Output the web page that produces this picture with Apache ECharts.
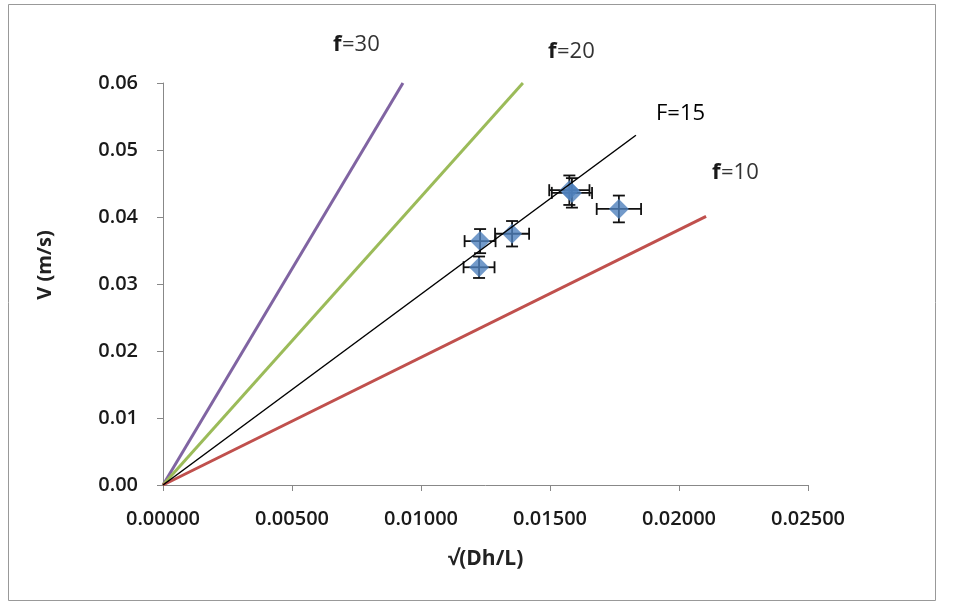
<!DOCTYPE html>
<html><head><meta charset="utf-8">
<script src="https://cdn.jsdelivr.net/npm/echarts@6/dist/echarts.min.js"></script>
<style>html,body{margin:0;padding:0;background:#fff}#c{width:956px;height:605px}</style>
</head><body><div id="c"></div>
<script>
// Measured data
const pointsX = [0.01225, 0.01229, 0.01353, 0.01575, 0.01585, 0.01767];
const pointsY = [0.0325, 0.0364, 0.0375, 0.0440, 0.0436, 0.0412];
const errX = [0.00060, 0.00060, 0.00066, 0.00078, 0.00078, 0.00086];
const errY = [0.0016, 0.0018, 0.0019, 0.0022, 0.0022, 0.0020];
const lineF30 = [[0, 0], [0.00930, 0.060]];
const lineF20 = [[0, 0], [0.01395, 0.060]];
const lineF15 = [[0, 0], [0.01833, 0.0522]];
const lineF10 = [[0, 0], [0.02105, 0.0401]];
const xTicks = [0, 0.005, 0.01, 0.015, 0.02, 0.025];
const yTicks = [0, 0.01, 0.02, 0.03, 0.04, 0.05, 0.06];

const FONT = '"Open Sans", "Noto Sans", sans-serif';
const scatterData = pointsX.map((x, i) => [x, pointsY[i]]);
const errData = pointsX.map((x, i) => [x, pointsY[i], errX[i], errY[i]]);
const fLabel = (x, y, n) => ([
  { type: 'text', x: x, y: y, style: { text: 'f', font: 'bold 22px ' + FONT, fill: '#1a1a1a', verticalAlign: 'middle', align: 'left' } },
  { type: 'text', x: x + 9, y: y, style: { text: n, font: 'normal 22px ' + FONT, fill: '#333', verticalAlign: 'middle', align: 'left' } }
]);

const chart = echarts.init(document.getElementById('c'));
chart.setOption({
  backgroundColor: '#fff',
  animation: false,
  grid: { left: 163, right: 148, top: 83, bottom: 120 },
  xAxis: {
    type: 'value', min: 0, max: 0.025, interval: 0.005,
    name: '√(Dh/L)', nameLocation: 'middle', nameGap: 64,
    nameTextStyle: { fontFamily: FONT, fontSize: 21, fontWeight: 'bold', color: '#222' },
    axisLine: { lineStyle: { color: '#888' } },
    axisTick: { show: true, inside: false, length: 6, lineStyle: { color: '#888' } },
    splitLine: { show: false },
    axisLabel: { fontFamily: FONT, fontSize: 20, fontWeight: 600, color: '#1a1a1a', margin: 24, formatter: v => v.toFixed(5) }
  },
  yAxis: {
    type: 'value', min: 0, max: 0.06, interval: 0.01,
    axisLine: { show: true, lineStyle: { color: '#888' } },
    axisTick: { show: true, inside: false, length: 6, lineStyle: { color: '#888' } },
    splitLine: { show: false },
    axisLabel: { fontFamily: FONT, fontSize: 20, fontWeight: 600, color: '#1a1a1a', margin: 25, formatter: v => v.toFixed(2) }
  },
  graphic: [
    { type: 'rect', shape: { x: 8.5, y: 4.5, width: 927, height: 596 }, style: { fill: 'none', stroke: '#999', lineWidth: 1 }, silent: true },
    { type: 'text', x: 45, y: 265, rotation: Math.PI / 2, style: { text: 'V (m/s)', font: 'bold 20px ' + FONT, fill: '#222', align: 'center', verticalAlign: 'middle' } },
    ...fLabel(333, 45, '=30'),
    ...fLabel(548, 52, '=20'),
    { type: 'text', x: 656, y: 114, style: { text: 'F=15', font: 'normal 22px ' + FONT, fill: '#000', verticalAlign: 'middle', align: 'left' } },
    ...fLabel(712, 173, '=10')
  ],
  series: [
    { type: 'line', data: lineF30, symbol: 'none', lineStyle: { color: '#8064A2', width: 3 }, z: 2 },
    { type: 'line', data: lineF20, symbol: 'none', lineStyle: { color: '#9BBB59', width: 3 }, z: 2 },
    { type: 'line', data: lineF10, symbol: 'none', lineStyle: { color: '#C0504D', width: 3 }, z: 2 },
    {
      type: 'custom', data: errData, z: 3,
      renderItem: function (params, api) {
        const x = api.value(0), y = api.value(1), ex = api.value(2), ey = api.value(3);
        const l = api.coord([x - ex, y]), r = api.coord([x + ex, y]);
        const t = api.coord([x, y + ey]), b = api.coord([x, y - ey]);
        const c = 6;
        const st = { stroke: '#111', lineWidth: 1.8 };
        return { type: 'group', children: [
          { type: 'line', shape: { x1: l[0], y1: l[1], x2: r[0], y2: r[1] }, style: st },
          { type: 'line', shape: { x1: l[0], y1: l[1] - c, x2: l[0], y2: l[1] + c }, style: st },
          { type: 'line', shape: { x1: r[0], y1: r[1] - c, x2: r[0], y2: r[1] + c }, style: st },
          { type: 'line', shape: { x1: t[0], y1: t[1], x2: b[0], y2: b[1] }, style: st },
          { type: 'line', shape: { x1: t[0] - c, y1: t[1], x2: t[0] + c, y2: t[1] }, style: st },
          { type: 'line', shape: { x1: b[0] - c, y1: b[1], x2: b[0] + c, y2: b[1] }, style: st }
        ] };
      }
    },
    { type: 'scatter', data: scatterData, symbol: 'diamond', symbolSize: 20, itemStyle: { color: '#4F81BD' }, z: 4 },
    { type: 'line', data: lineF15, symbol: 'none', lineStyle: { color: '#000', width: 1.5 }, z: 5 }
  ]
});
</script></body></html>
